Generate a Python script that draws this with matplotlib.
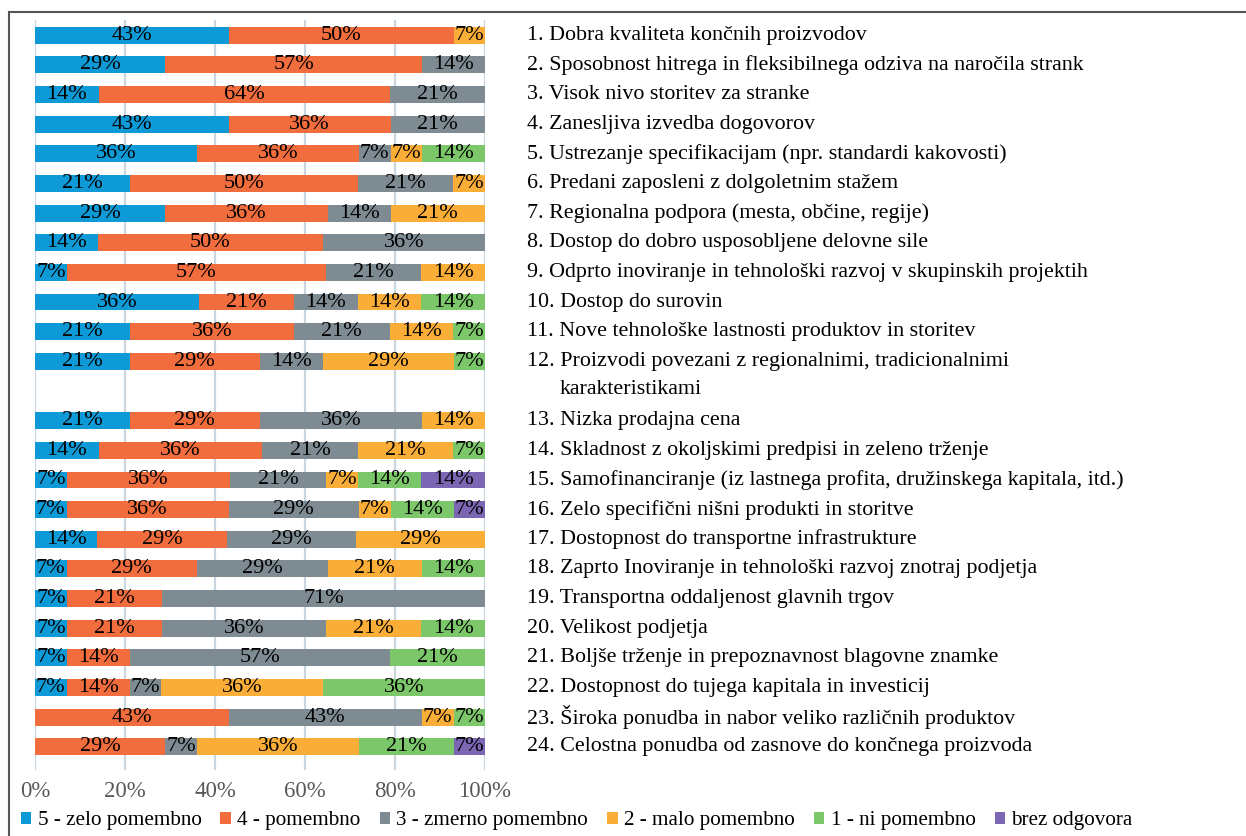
import numpy as np
import matplotlib
matplotlib.use("Agg")
import matplotlib.pyplot as plt
from matplotlib.patches import Rectangle

plt.rcParams["font.family"] = ["Liberation Serif", "DejaVu Serif"]

### DATA ###
factors = [
    "1. Dobra kvaliteta končnih proizvodov",
    "2. Sposobnost hitrega in fleksibilnega odziva na naročila strank",
    "3. Visok nivo storitev za stranke",
    "4. Zanesljiva izvedba dogovorov",
    "5. Ustrezanje specifikacijam (npr. standardi kakovosti)",
    "6. Predani zaposleni z dolgoletnim stažem",
    "7. Regionalna podpora (mesta, občine, regije)",
    "8. Dostop do dobro usposobljene delovne sile",
    "9. Odprto inoviranje in tehnološki razvoj v skupinskih projektih",
    "10. Dostop do surovin",
    "11. Nove tehnološke lastnosti produktov in storitev",
    "12. Proizvodi povezani z regionalnimi, tradicionalnimi\nkarakteristikami",
    "13. Nizka prodajna cena",
    "14. Skladnost z okoljskimi predpisi in zeleno trženje",
    "15. Samofinanciranje (iz lastnega profita, družinskega kapitala, itd.)",
    "16. Zelo specifični nišni produkti in storitve",
    "17. Dostopnost do transportne infrastrukture",
    "18. Zaprto Inoviranje in tehnološki razvoj znotraj podjetja",
    "19. Transportna oddaljenost glavnih trgov",
    "20. Velikost podjetja",
    "21. Boljše trženje in prepoznavnost blagovne znamke",
    "22. Dostopnost do tujega kapitala in investicij",
    "23. Široka ponudba in nabor veliko različnih produktov",
    "24. Celostna ponudba od zasnove do končnega proizvoda",
]

series_names = ["5 - zelo pomembno", "4 - pomembno", "3 - zmerno pomembno",
                "2 - malo pomembno", "1 - ni pomembno", "brez odgovora"]

zelo_pomembno = [43, 29, 14, 43, 36, 21, 29, 14, 7, 36, 21, 21,
                 21, 14, 7, 7, 14, 7, 7, 7, 7, 7, 0, 0]
pomembno = [50, 57, 64, 36, 36, 50, 36, 50, 57, 21, 36, 29,
            29, 36, 36, 36, 29, 29, 21, 21, 14, 14, 43, 29]
zmerno_pomembno = [0, 14, 21, 21, 7, 21, 14, 36, 21, 14, 21, 14,
                   36, 21, 21, 29, 29, 29, 71, 36, 57, 7, 43, 7]
malo_pomembno = [7, 0, 0, 0, 7, 7, 21, 0, 14, 14, 14, 29,
                 14, 21, 7, 7, 29, 21, 0, 21, 0, 36, 7, 36]
ni_pomembno = [0, 0, 0, 0, 14, 0, 0, 0, 0, 14, 7, 7,
               0, 7, 14, 14, 0, 14, 0, 14, 21, 36, 7, 21]
brez_odgovora = [0, 0, 0, 0, 0, 0, 0, 0, 0, 0, 0, 0,
                 0, 0, 14, 7, 0, 0, 0, 0, 0, 0, 0, 7]

colors = ["#0e9ad6", "#f26d3d", "#7f8b93", "#fbae37", "#7cc76a", "#7b66b3"]

# slot positions: the wrapped label of factor 12 takes an extra slot
slots = [i if i < 12 else i + 1 for i in range(len(factors))]

values = np.array([zelo_pomembno, pomembno, zmerno_pomembno,
                   malo_pomembno, ni_pomembno, brez_odgovora], dtype=float)
shares = values / values.sum(axis=0) * 100

fig = plt.figure(figsize=(12.46, 8.36), dpi=100)
ax = fig.add_axes([35 / 1246, 1 - 770 / 836, 450 / 1246, 750 / 836])

left = np.zeros(len(factors))
for name, share, raw, color in zip(series_names, shares, values, colors):
    ax.barh(slots, share, left=left, height=0.57, color=color, label=name, zorder=2)
    for y, l, w, v in zip(slots, left, share, raw):
        if v > 0:
            ax.text(l + w / 2, y, f"{int(v)}%", ha="center", va="center",
                    fontsize=16, color="black", zorder=3)
    left += share

ax.set_xlim(0, 100)
ax.set_ylim(24.78, -0.51)
ax.set_xticks([0, 20, 40, 60, 80, 100])
ax.set_xticklabels(["0%", "20%", "40%", "60%", "80%", "100%"])
ax.tick_params(axis="x", length=0, labelsize=16.5, labelcolor="#595959", pad=8)
ax.set_yticks([])
ax.grid(axis="x", color="#c9d5df", linewidth=1.6, zorder=0)
for s in ax.spines.values():
    s.set_visible(False)

# factor names to the right of the bars; the long one wraps onto the empty slot
for y, label in zip(slots, factors):
    lines = label.split("\n")
    ax.text(109.3, y, lines[0], ha="left", va="center", fontsize=15.8, clip_on=False)
    if len(lines) > 1:
        ax.text(116.5, y + 0.95, lines[1], ha="left", va="center", fontsize=15.8,
                clip_on=False)

fig.legend(loc="lower left", bbox_to_anchor=(8 / 1246, -0.008), ncol=6, frameon=False,
           fontsize=15.2, handlelength=0.5, handleheight=0.5, handletextpad=0.3,
           columnspacing=0.9, borderaxespad=0.2)

fig.patches.append(Rectangle((9 / 1246, -0.05), 1.1, 1 - 12 / 836 + 0.05,
                             transform=fig.transFigure, fill=False,
                             edgecolor="#555555", linewidth=1.5))

fig.savefig("out.png", dpi=100)
